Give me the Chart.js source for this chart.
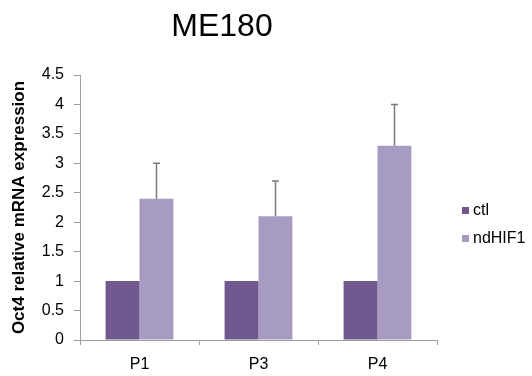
<!DOCTYPE html>
<html>
<head>
<meta charset="utf-8">
<script src="https://cdn.jsdelivr.net/npm/chart.js@4/dist/chart.umd.min.js"></script>
<style>
  html, body { margin: 0; padding: 0; background: #fff; }
  #wrap { width: 532px; height: 376px; }
</style>
</head>
<body>
<div id="wrap"><canvas id="oct4Chart" width="532" height="376"></canvas></div>
<script>
// ME180 - Oct4 relative expression, ctl vs ndHIF1

const categories = ['P1', 'P3', 'P4'];
const ctlValues = [1, 1, 1];
const hifValues = [2.4, 2.1, 3.3];
const hifErrors = [0.6, 0.6, 0.7];
const yTicks = [0, 0.5, 1, 1.5, 2, 2.5, 3, 3.5, 4, 4.5];

const FONT = 'Liberation Sans, Arial, sans-serif';

// upper error bars + title + legend drawn on top
const extrasPlugin = {
    id: 'extras',
    afterDatasetsDraw(chart) {
        const ctx = chart.ctx;
        const meta = chart.getDatasetMeta(1);
        const yScale = chart.scales.y;
        ctx.save();
        ctx.strokeStyle = '#7a7a7a';
        ctx.lineWidth = 1.5;
        meta.data.forEach((bar, i) => {
            const top = yScale.getPixelForValue(hifValues[i]);
            const end = yScale.getPixelForValue(hifValues[i] + hifErrors[i]);
            const x = Math.round(bar.x) + 0.5;
            ctx.beginPath();
            ctx.moveTo(x, top);
            ctx.lineTo(x, end);
            ctx.moveTo(x - 3.5, end);
            ctx.lineTo(x + 3.5, end);
            ctx.stroke();
        });
        ctx.restore();
    },
    afterDraw(chart) {
        const ctx = chart.ctx;
        ctx.save();
        ctx.fillStyle = '#000';
        ctx.font = '32px ' + FONT;
        ctx.textAlign = 'center';
        ctx.textBaseline = 'middle';
        ctx.fillText('ME180', 222, 27);

        // legend
        ctx.font = '16px ' + FONT;
        ctx.textAlign = 'left';
        chart.data.datasets.forEach((ds, i) => {
            const y = 210 + i * 28;
            ctx.fillStyle = ds.backgroundColor;
            ctx.fillRect(462, y - 3, 7, 7);
            ctx.fillStyle = '#000';
            ctx.fillText(ds.label, 473, y + 1);
        });
        ctx.restore();
    }
};

new Chart(document.getElementById('oct4Chart').getContext('2d'), {
    type: 'bar',
    data: {
        labels: categories,
        datasets: [
            { label: 'ctl', data: ctlValues, backgroundColor: '#71598f' },
            { label: 'ndHIF1', data: hifValues, backgroundColor: '#a89bc1' }
        ]
    },
    options: {
        responsive: false,
        animation: false,
        devicePixelRatio: 1,
        categoryPercentage: 0.57,
        barPercentage: 1.0,
        layout: { padding: { top: 75, right: 95, left: 0, bottom: 0 } },
        scales: {
            x: {
                grid: { display: true, drawOnChartArea: false, color: '#a0a0a0', tickLength: 5 },
                border: { color: '#a0a0a0' },
                ticks: { color: '#000', font: { family: FONT, size: 16 }, padding: 10 },
                afterFit: (scale) => { scale.height = 36; }
            },
            y: {
                min: 0,
                max: 4.5,
                afterBuildTicks: (scale) => { scale.ticks = yTicks.map(v => ({ value: v })); },
                grid: { display: true, drawOnChartArea: false, color: '#a0a0a0', tickLength: 6 },
                border: { color: '#a0a0a0' },
                ticks: {
                    color: '#000',
                    font: { family: FONT, size: 16 },
                    padding: 10,
                    callback: (v) => String(v)
                },
                title: {
                    display: true,
                    text: 'Oct4 relative mRNA expression',
                    color: '#000',
                    font: { family: FONT, size: 17, weight: 'bold' },
                    padding: { top: 9, bottom: 0 }
                },
                afterFit: (scale) => { scale.width = 80; }
            }
        },
        plugins: {
            legend: { display: false },
            tooltip: { enabled: false }
        }
    },
    plugins: [extrasPlugin]
});
</script>
</body>
</html>
